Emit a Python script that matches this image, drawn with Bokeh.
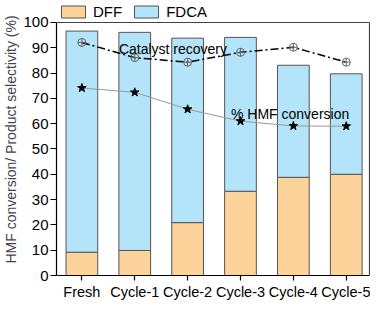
from bokeh.plotting import figure
from bokeh.models import Range1d, FixedTicker, ColumnDataSource, LinearAxis, Span
from bokeh.core.properties import value
from bokeh.embed import file_html
from bokeh.resources import INLINE

categories = ["Fresh", "Cycle-1", "Cycle-2", "Cycle-3", "Cycle-4", "Cycle-5"]
dff = [9.2, 9.9, 20.9, 33.3, 38.8, 40.0]
fdca = [87.4, 86.2, 72.9, 60.8, 44.3, 39.7]
catalyst_recovery = [92.1, 86.1, 84.3, 88.2, 90.2, 84.3]
hmf_conversion = [74.1, 72.4, 65.7, 61.0, 59.1, 59.0]
y_ticks = [0, 10, 20, 30, 40, 50, 60, 70, 80, 90, 100]

FONT = "Liberation Sans"
FRAME_W, FRAME_H = 313, 272
Y_MAX, Y_TOP = 100, 107.5
xs = list(range(len(categories)))

src = ColumnDataSource(dict(x=xs, DFF=dff, FDCA=fdca,
                            rec=catalyst_recovery, hmf=hmf_conversion))

p = figure(frame_width=FRAME_W, frame_height=FRAME_H,
           output_backend="svg", toolbar_location=None,
           x_range=Range1d(-0.48, 5.44), y_range=Range1d(0, Y_TOP),
           min_border_right=1, min_border_top=3, min_border_bottom=0,
           min_border_left=50)
p.outline_line_color = None
p.grid.visible = False

p.vbar_stack(["DFF", "FDCA"], x="x", width=0.6, source=src,
             fill_color=["#FDD29B", "#B3E4F9"],
             line_color="#555555", line_width=1,
             legend_label=["DFF", "FDCA"])

p.line("x", "rec", source=src, line_color="black", line_width=1.5,
       line_dash="8 3 2 3")
p.scatter("x", "rec", source=src, marker="circle_cross", size=8,
          line_color="#666666", fill_alpha=0, line_width=1)

p.line("x", "hmf", source=src, line_color="#999999", line_width=1)
p.scatter("x", "hmf", source=src, marker="star", size=9,
          line_color="black", fill_color="black")

ann = ColumnDataSource(dict(x=[0.7, 2.82], y=[89.4, 63.8],
                            t=["Catalyst recovery", "% HMF conversion"]))
p.text("x", "y", text="t", source=ann, text_font=value(FONT),
       text_font_size="14px", text_color="black",
       text_baseline="alphabetic", text_align="left")

# frame box: top edge at 100 and right edge
p.add_layout(Span(location=Y_MAX, dimension="width",
                  line_color="#444444", line_width=1.2))
right_ax = LinearAxis(bounds=(0, Y_MAX), ticker=FixedTicker(ticks=[]),
                      axis_line_color="#444444", axis_line_width=1.2,
                      major_tick_line_color=None, minor_tick_line_color=None,
                      major_label_text_font_size="0px")
p.add_layout(right_ax, "right")

lg = p.legend[0]
lg.orientation = "horizontal"
lg.location = (2, FRAME_H - 17)
lg.glyph_width = 30
lg.glyph_height = 15
lg.label_height = 15
lg.label_standoff = 5
lg.spacing = 9
lg.padding = 0
lg.margin = 0
lg.border_line_color = None
lg.background_fill_alpha = 0
lg.label_text_font = FONT
lg.label_text_font_size = "15px"
lg.label_text_color = "black"

xa = p.xaxis[0]
ya = p.yaxis[0]
for ax in (xa, ya):
    ax.axis_line_color = "black"
    ax.axis_line_width = 1.2
    ax.major_tick_line_color = "black"
    ax.major_tick_line_width = 1.2
    ax.major_tick_in = 0
    ax.minor_tick_line_color = None
    ax.major_label_text_font = FONT
    ax.major_label_text_font_size = "15px"
    ax.major_label_text_color = "black"

xa.ticker = FixedTicker(ticks=xs)
xa.major_label_overrides = {i: c for i, c in enumerate(categories)}
xa.major_label_text_font_size = "14.5px"
xa.major_tick_out = 5
xa.major_label_standoff = 3

ya.bounds = (0, Y_MAX)
ya.ticker = FixedTicker(ticks=y_ticks)
ya.major_tick_out = 6
ya.major_label_standoff = 2
ya.axis_label = "HMF conversion/ Product selectivity (%)"
ya.axis_label_text_font = FONT
ya.axis_label_text_font_size = "14px"
ya.axis_label_text_font_style = "normal"
ya.axis_label_standoff = 1

open("out.html", "w").write(file_html(p, INLINE))
